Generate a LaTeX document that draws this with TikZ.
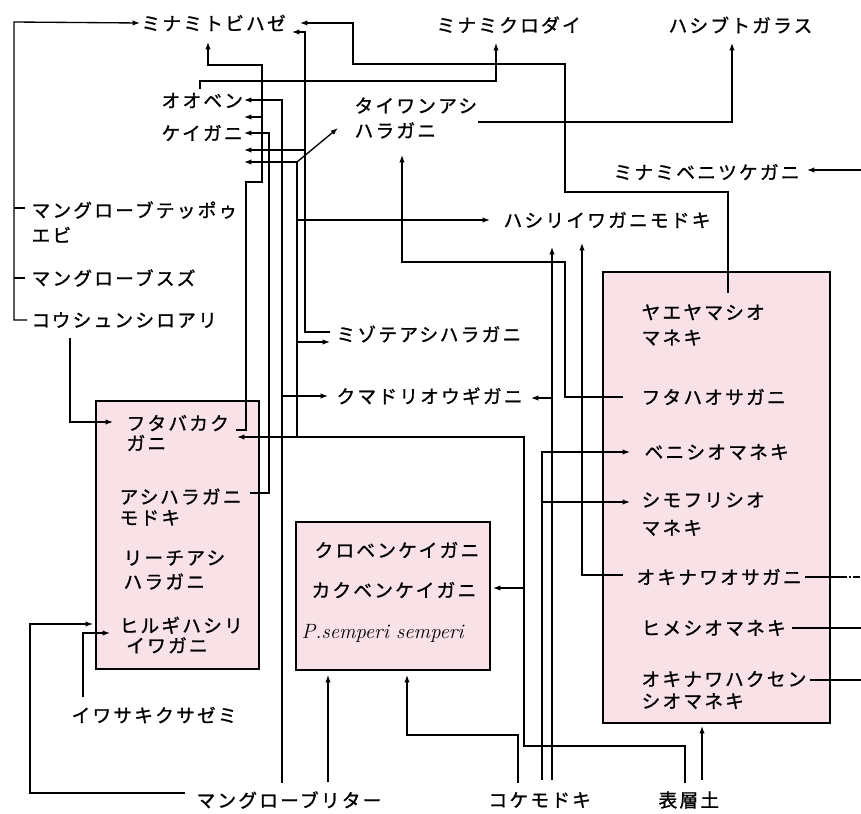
\documentclass[tikz,border=0pt]{standalone}
\usepackage{fontspec}
\newfontfamily\jp{Noto Sans CJK JP}[LetterSpace=12.0,FakeBold=1.2]
\usetikzlibrary{arrows.meta}
\definecolor{boxpink}{RGB}{249,226,231}
\begin{document}
\begin{tikzpicture}[x=0.75pt,y=-0.75pt,
  lbl/.style={anchor=west, inner sep=1pt, align=left, font=\jp\fontsize{14pt}{17pt}\selectfont},
  latin/.style={anchor=west, inner sep=1pt, font=\fontsize{15.5pt}{17pt}\selectfont\itshape},
  wire/.style={line width=1pt, line join=miter},
  ar/.style={wire, -{Latex[length=5.5pt,width=4pt]}},
  boxst/.style={draw, line width=1pt, fill=boxpink}]
\useasboundingbox (0,0) rectangle (861,814);
% boxes
\draw[boxst] (96,401) rectangle (259,669);
\draw[boxst] (296,522) rectangle (490,670);
\draw[boxst] (603,272) rectangle (830,723);
% labels
\node[lbl] (tobi) at (140,23) {ミナミトビハゼ};
\node[lbl] (kurodai) at (435,25) {ミナミクロダイ};
\node[lbl] (garasu) at (667,25) {ハシブトガラス};
\node[lbl] (oben) at (160,117) {オオベン\\[7.5pt]ケイガニ};
\node[lbl] (taiwan) at (353,118) {タイワンアシ\\[1.7pt]ハラガニ};
\node[lbl] (benitsuke) at (612,172) {ミナミベニツケガニ};
\node[lbl] (hashiri) at (502,220) {ハシリイワガニモドキ};
\node[lbl] (teppo) at (30,222) {マングローブテッポゥ\\[1.7pt]エビ};
\node[lbl] (suzu) at (30,278) {マングローブスズ};
\node[lbl] (shiroari) at (30,320) {コウシュンシロアリ};
\node[lbl] (mizote) at (335,334) {ミゾテアシハラガニ};
\node[lbl] (kumadori) at (335,396) {クマドリオウギガニ};
\node[lbl] (futaba) at (125,433) {フタバカク\\[-2pt]ガニ};
\node[lbl] (ashimodoki) at (118,507) {アシハラガニ\\[-1.3pt]モドキ};
\node[lbl] (riichi) at (122,570) {リーチアシ\\[1pt]ハラガニ};
\node[lbl] (hirugi) at (118,635) {ヒルギハシリ\\[-2pt]\hspace*{5pt}イワガニ};
\node[lbl] (kurobe) at (313,550) {クロベンケイガニ};
\node[lbl] (kakube) at (310,590) {カクベンケイガニ};
\node[latin] (semperi) at (300,633) {P.semperi semperi};
\node[lbl] (yaeyama) at (640,325) {ヤエヤマシオ\\[2pt]マネキ};
\node[lbl] (futaha) at (640,397) {フタハオサガニ};
\node[lbl] (benishio) at (643,452) {ベニシオマネキ};
\node[lbl] (shimofuri) at (640,514) {シモフリシオ\\[4pt]マネキ};
\node[lbl] (okiosa) at (635,577) {オキナワオサガニ};
\node[lbl] (hime) at (640,628) {ヒメシオマネキ};
\node[lbl] (hakusen) at (640,690) {オキナワハクセン\\[-0.5pt]シオマネキ};
\node[lbl] (iwasaki) at (70,715) {イワサキクサゼミ};
\node[lbl] (litter) at (195,800) {マングローブリター};
\node[lbl] (koke) at (487,800) {コケモドキ};
\node[lbl] (hyoso) at (657,800) {表層土};
% connectors
\draw[ar] (27,320) -- (14,320) -- (14,22) -- (tobi.west);
\draw[wire] (14,208) -- (25,208);
\draw[wire] (14,278) -- (25,278);
\draw[ar] (236,430) -- (246,430) -- (246,182) -- (262,182) -- (262,65) -- (208,65) -- (208,42);
\draw[ar] (262,117) -- (244,117);
\draw[ar] (250,493) -- (269,493) -- (269,133) -- (244,133);
\draw[ar] (282,783) -- (282,100) -- (244,100);
\draw[ar] (282,396) -- (328,396);
\draw[ar] (330,332) -- (305,332) -- (305,32) -- (292,32);
\draw[ar] (305,150) -- (244,150);
\draw[ar] (685,783) -- (685,746) -- (524,746) -- (524,437) -- (237,437);
\draw[ar] (524,588) -- (493,588);
\draw[ar] (297,437) -- (297,162) -- (244,162);
\draw[ar] (297,162) -- (338,128);
\draw[ar] (297,220) -- (490,220);
\draw[ar] (297,342) -- (330,342);
\draw[ar] (728,293) -- (728,192) -- (565,192) -- (565,64) -- (353,64) -- (353,23) -- (300,23);
\draw[ar] (200,89) -- (200,81) -- (496,81) -- (496,43);
\draw[ar] (478,122) -- (732,122) -- (732,43);
\draw[ar] (861,170) -- (807,170);
\draw[ar] (623,397) -- (565,397) -- (565,262) -- (402,262) -- (402,155);
\draw[ar] (552,780) -- (552,247);
\draw[ar] (552,398) -- (531,398);
\draw[ar] (623,575) -- (582,575) -- (582,243);
\draw[ar] (542,780) -- (542,452) -- (630,452);
\draw[ar] (542,502) -- (630,502);
\draw[ar] (518,783) -- (518,735) -- (407,735) -- (407,675);
\draw[ar] (702,780) -- (702,726);
\draw[ar] (185,793) -- (30,793) -- (30,624) -- (93,624);
\draw[ar] (328,782) -- (328,675);
\draw[ar] (83,697) -- (83,633) -- (110,633);
\draw[ar] (70,338) -- (70,422) -- (113,422);
\draw[wire] (805,577) -- (840,577);
\draw[wire, dash pattern=on 5pt off 2pt on 1pt off 2pt] (840,577) -- (861,577);
\draw[wire] (792,628) -- (861,628);
\draw[wire] (810,680) -- (861,680);
\end{tikzpicture}
\end{document}
